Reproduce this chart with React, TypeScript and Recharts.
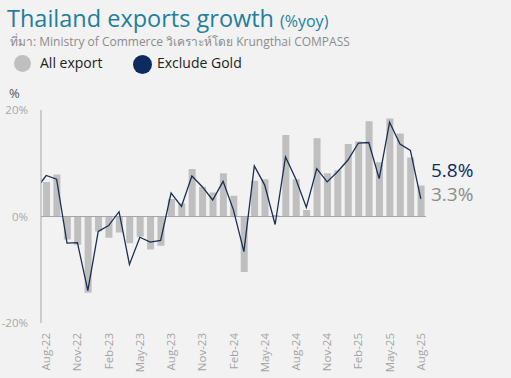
import { ComposedChart, Bar, Line, XAxis, YAxis, ReferenceLine } from 'recharts';

// monthly, Aug-22 .. Aug-25
const months = [
  'Aug-22', 'Sep-22', 'Oct-22', 'Nov-22', 'Dec-22', 'Jan-23', 'Feb-23', 'Mar-23', 'Apr-23', 'May-23',
  'Jun-23', 'Jul-23', 'Aug-23', 'Sep-23', 'Oct-23', 'Nov-23', 'Dec-23', 'Jan-24', 'Feb-24', 'Mar-24',
  'Apr-24', 'May-24', 'Jun-24', 'Jul-24', 'Aug-24', 'Sep-24', 'Oct-24', 'Nov-24', 'Dec-24', 'Jan-25',
  'Feb-25', 'Mar-25', 'Apr-25', 'May-25', 'Jun-25', 'Jul-25', 'Aug-25',
];

// All export %yoy (bars)
const allExport = [
  6.5, 7.9, -4.3, -5.3, -14.3, -2.8, -4.0, -3.0, -5.0, -3.8,
  -6.2, -5.5, 3.3, 2.5, 8.9, 5.6, 4.5, 8.1, 3.9, -10.4,
  6.7, 7.0, 0.3, 15.3, 7.0, 1.2, 14.7, 8.1, 8.7, 13.6,
  14.1, 17.9, 10.2, 18.4, 15.6, 11.1, 5.8,
];

// Exclude gold %yoy (line), Jul-22 comes first and is cut off at the axis
const excludeGoldPrev = 5.1;
const excludeGold = [
  7.7, 7.0, -5.0, -4.9, -13.9, -2.8, -1.7, 0.9, -9.0, -3.9,
  -4.8, -4.5, 4.4, 1.9, 7.6, 5.6, 3.1, 6.6, 1.2, -6.6,
  9.5, 5.9, -1.5, 11.2, 7.0, 1.7, 9.0, 6.5, 8.4, 10.6,
  13.8, 13.9, 7.1, 17.7, 13.6, 12.4, 3.3,
];

const tickIdx = [0, 3, 6, 9, 12, 15, 18, 21, 24, 27, 30, 33, 36];
const yTicks = [-20, 0, 20];

const latestAll = '5.8%';
const latestExGold = '3.3%';

const NAVY = '#0d2b5e';
const LINE = '#1c2d4f';
const GREY_BAR = '#bfbfbf';
const FONT = '"Open Sans", "Noto Sans", sans-serif';

const chartData = [
  { x: -1, all: null, exg: excludeGoldPrev },
  ...months.map((m, i) => ({ x: i, month: m, all: allExport[i], exg: excludeGold[i] })),
];

function MonthTick({ x, y, payload }: any) {
  const label = months[payload.value] ?? '';
  return (
    <text
      x={x}
      y={y}
      transform={`rotate(-90 ${x} ${y})`}
      textAnchor="end"
      dy="0.35em"
      fill="#a3a3a3"
      fontSize={11.5}
      fontFamily={FONT}
    >
      {label}
    </text>
  );
}

export default function App() {
  return (
    <div
      style={{
        position: 'absolute',
        left: 0,
        top: 0,
        width: 511,
        height: 378,
        background: '#f2f2f2',
        fontFamily: FONT,
        overflow: 'hidden',
      }}
    >
      {/* Title */}
      <div style={{ position: 'absolute', left: 7, top: 2, color: '#1f7f9c', whiteSpace: 'nowrap' }}>
        <span style={{ fontSize: 23.5 }}>Thailand exports growth</span>
        <span style={{ fontSize: 16, marginLeft: 6 }}>(%yoy)</span>
      </div>
      <div style={{ position: 'absolute', left: 10, top: 32, fontSize: 12, color: '#8c8c8c', whiteSpace: 'nowrap' }}>
        ที่มา: Ministry of Commerce วิเคราะห์โดย Krungthai COMPASS
      </div>

      {/* Legend */}
      <div style={{ position: 'absolute', left: 14, top: 55, width: 17, height: 17, borderRadius: '50%', background: GREY_BAR }} />
      <div style={{ position: 'absolute', left: 40, top: 53, fontSize: 14, color: '#222' }}>All export</div>
      <div style={{ position: 'absolute', left: 133, top: 55, width: 19, height: 19, borderRadius: '50%', background: NAVY }} />
      <div style={{ position: 'absolute', left: 157, top: 53, fontSize: 14, color: '#222' }}>Exclude Gold</div>

      <div style={{ position: 'absolute', left: 9, top: 87, fontSize: 13, lineHeight: '13px', color: '#555' }}>%</div>

      {/* Latest values */}
      <div style={{ position: 'absolute', left: 431, top: 157, fontSize: 19, color: NAVY }}>{latestAll}</div>
      <div style={{ position: 'absolute', left: 431, top: 181, fontSize: 19, color: '#8c8c8c' }}>{latestExGold}</div>

      <div style={{ position: 'absolute', left: 0, top: 0 }}>
        <ComposedChart
          width={511}
          height={378}
          data={chartData}
          margin={{ top: 110, right: 85, bottom: 10, left: 0 }}
        >
          <XAxis
            dataKey="x"
            type="number"
            domain={[-0.5, 36.5]}
            allowDataOverflow
            ticks={tickIdx}
            interval={0}
            axisLine={false}
            tickLine={false}
            tickSize={0}
            tickMargin={10}
            height={45}
            tick={<MonthTick />}
          />
          <YAxis
            type="number"
            domain={[-20, 20]}
            ticks={yTicks}
            width={41}
            tickFormatter={(v) => `${v}%`}
            axisLine={{ stroke: '#a6a6a6' }}
            tickLine={false}
            tickSize={0}
            tickMargin={13}
            tick={{ fill: '#a8a8a8', fontSize: 11.5, fontFamily: FONT }}
          />
          <ReferenceLine y={0} stroke="#a6a6a6" strokeWidth={1} />
          <Bar dataKey="all" fill={GREY_BAR} barSize={7} isAnimationActive={false} />
          <Line
            dataKey="exg"
            type="linear"
            stroke={LINE}
            strokeWidth={1.3}
            dot={false}
            isAnimationActive={false}
          />
        </ComposedChart>
      </div>
    </div>
  );
}
